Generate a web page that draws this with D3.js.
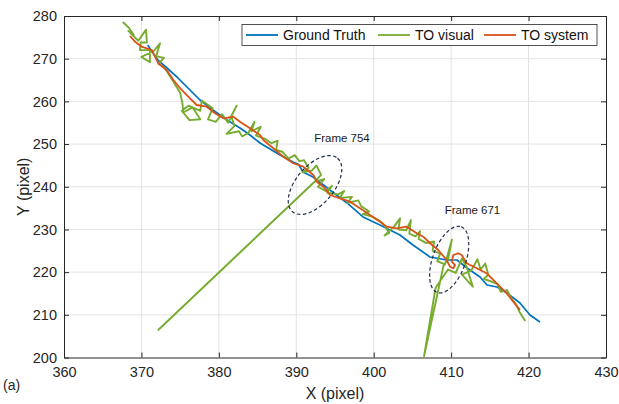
<!DOCTYPE html>
<html><head><meta charset="utf-8">
<script src="https://cdn.jsdelivr.net/npm/d3@7"></script>
<style>
body{margin:0;background:#fff;}
svg{display:block;font-family:"Liberation Sans",Arial,Helvetica,sans-serif;}
</style></head><body>
<svg id="chart" width="619" height="404"></svg>
<script>
// ---- data ----
const xTicks = [360,370,380,390,400,410,420,430];
const yTicks = [200,210,220,230,240,250,260,270,280];
const seriesNames = ["Ground Truth","TO visual","TO system"];
const seriesColors = ["#0072BD","#77AC30","#D95319"];

const groundTruth = [
[370.81,273.21],[371.49,271.33],[372.14,269.69],[373.30,267.82],[374.72,265.48],[376.27,262.67],
[377.56,260.32],[379.24,257.98],[381.05,255.64],[382.73,253.76],[384.02,252.12],[385.31,250.25],
[386.61,248.84],[387.90,247.44],[389.58,245.80],[390.30,245.2],[390.87,243.46],[392.16,242.29],[394.35,239.24],
[396.55,236.20],[398.62,232.92],[400.81,231.04],[403.39,228.70],[405.07,226.36],[407.27,223.55],
[409.46,222.84],[410.76,222.84],[412.05,220.97],[413.73,218.86],[414.63,216.99],[415.92,216.52],
[417.21,215.11],[418.89,212.77],[420.18,209.96],[421.47,208.32]
];

const toSystem = [
[368.52,275.32],[369.17,273.98],[370.03,272.81],[370.68,272.43],[371.33,272.04],[371.75,270.47],
[372.18,268.92],[373.26,267.35],[374.12,265.01],[375.20,262.67],[376.27,260.72],[377.14,259.15],
[378.43,258.75],[379.50,257.21],[380.57,256.04],[381.87,256.41],[382.73,255.24],[384.02,253.69],
[385.31,252.12],[385.74,250.95],[387.03,249.01],[388.32,247.04],[389.61,245.50],[390.91,244.70],
[392.20,242.75],[392.64,241.19],[393.49,240.01],[394.35,238.07],[395.65,237.30],[396.94,236.50],
[398.23,234.95],[399.52,233.38],[400.81,231.82],[401.68,230.64],[402.97,230.27],[404.26,230.64],
[405.55,229.10],[406.40,228.30],[407.27,226.76],[408.34,225.19],[409.42,222.84],[409.85,221.27],
[410.28,220.90],[410.50,221.67],[410.07,222.44],[410.28,224.01],[410.92,224.41],[411.36,224.01],
[412.01,222.07],[413.30,220.90],[414.59,219.73],[415.44,218.16],[416.31,216.59],[417.17,215.04],
[418.03,213.08],[418.89,211.13]
];

const toVisual = [
[367.6,278.6],[368.4,277.2],[369.0,275.6],[368.3,276.5],[369.6,274.2],
[370.6,276.8],[370.7,273.8],[369.9,273.8],[369.8,272.0],[371.1,272.0],[371.1,269.2],[370.0,270.4],
[371.6,271.8],[372.4,273.6],[371.9,270.6],[372.9,270.2],[372.2,268.8],
[373.0,267.8],[373.8,265.6],[374.6,263.2],[375.0,262.0],[375.3,259.5],[375.4,257.4],[376.6,258.6],
[377.6,255.8],[376.2,255.6],[375.2,257.8],[376.1,259.0],[377.6,257.8],[377.8,260.2],[379.2,258.4],[378.6,255.8],
[379.6,255.2],[380.4,257.0],[381.2,255.0],[382.3,259.0],[381.6,256.6],[382.0,254.2],[381.0,252.4],
[382.6,253.0],[383.0,251.8],[383.8,252.6],[384.6,255.2],[384.2,253.0],[385.4,254.0],[384.8,252.0],
[386.0,251.2],[386.8,250.2],[387.6,250.8],[387.4,248.6],[388.2,248.2],[389.0,246.6],[389.8,247.4],
[390.4,246.0],[391.0,246.2],[391.6,244.4],[390.8,243.4],[392.0,243.8],[392.6,245.0],[393.2,242.8],
[392.6,241.6],[372.2,206.5],[392.4,241.2],[393.6,241.8],[392.8,240.0],[393.8,239.0],[394.6,240.2],
[394.0,238.6],[395.4,238.2],[396.2,239.0],[395.6,237.4],[397.2,237.6],[396.6,236.2],[398.0,236.8],
[398.4,235.4],[399.4,234.2],[398.6,233.6],[399.8,233.0],[400.6,232.2],[401.2,231.4],[402.0,229.2],
[401.4,228.6],[402.6,230.6],[403.4,232.6],[403.2,230.0],[404.2,229.8],[404.8,232.2],[404.6,229.0],
[405.4,228.4],[406.0,229.6],[405.8,227.8],[406.8,226.8],[407.8,227.2],[407.6,225.0],[408.6,224.4],
[408.2,222.6],[409.2,221.8],[410.1,227.6],[409.6,223.0],[409.0,221.4],[406.5,200.3],[408.0,216.4],
[409.6,220.6],[410.6,219.8],[411.4,223.2],[412.0,221.2],[412.8,216.6],[411.4,219.4],[412.6,220.4],
[413.4,223.0],[413.8,220.6],[414.4,222.0],[414.8,219.4],[414.2,218.4],[415.2,217.8],[416.0,217.2],
[416.4,215.4],[417.2,215.8],[417.8,213.8],[418.4,212.4],[418.8,210.8],[419.4,209.0],[419.6,208.6]
];

const annotations = [
  {label:"Frame 754", cx:392.42, cy:240.41, tx:395.9, ty:250.4, angle:-50, rx:35, ry:19},
  {label:"Frame 671", cx:409.75, cy:222.93, tx:412.75, ty:233.6, angle:-70, rx:35, ry:16.5}
];

// ---- layout ----
const W=619,H=404;
const m={left:64,right:13,top:16,bottom:46.5};
const svg=d3.select("#chart");
const x=d3.scaleLinear().domain([360,430]).range([m.left,W-m.right]);
const y=d3.scaleLinear().domain([200,280]).range([H-m.bottom,m.top]);
const axisColor="#262626";

// grid
const g=svg.append("g");
g.selectAll(".gx").data(xTicks.slice(1,-1)).enter().append("line")
 .attr("x1",d=>x(d)).attr("x2",d=>x(d)).attr("y1",y(200)).attr("y2",y(280))
 .attr("stroke","#e3e3e3").attr("stroke-width",1);
g.selectAll(".gy").data(yTicks.slice(1,-1)).enter().append("line")
 .attr("y1",d=>y(d)).attr("y2",d=>y(d)).attr("x1",x(360)).attr("x2",x(430))
 .attr("stroke","#e3e3e3").attr("stroke-width",1);

// series lines
const line=d3.line().x(d=>x(d[0])).y(d=>y(d[1]));
const plot=svg.append("g");
[[groundTruth,0,1.7],[toVisual,1,1.9],[toSystem,2,1.8]].forEach(([data,i,w])=>{
  plot.append("path").datum(data).attr("d",line).attr("fill","none")
   .attr("stroke",seriesColors[i]).attr("stroke-width",w).attr("stroke-linejoin","round");
});

// annotations
annotations.forEach(a=>{
  svg.append("ellipse").attr("cx",0).attr("cy",0).attr("rx",a.rx).attr("ry",a.ry)
   .attr("transform",`translate(${x(a.cx)},${y(a.cy)}) rotate(${a.angle})`)
   .attr("fill","none").attr("stroke","#1f2d4f").attr("stroke-width",1.2)
   .attr("stroke-dasharray","3.5,2.5");
  svg.append("text").attr("x",x(a.tx)).attr("y",y(a.ty))
   .attr("text-anchor","middle").attr("font-size",11.5).attr("fill","#1a1a1a").text(a.label);
});

// axes (MATLAB style box with inward ticks)
const tl=5;
const axB=svg.append("g").attr("transform",`translate(0,${y(200)})`)
  .call(d3.axisBottom(x).tickValues(xTicks).tickSizeInner(-tl).tickSizeOuter(0).tickPadding(9));
const axT=svg.append("g").attr("transform",`translate(0,${y(280)})`)
  .call(d3.axisTop(x).tickValues(xTicks).tickSizeInner(-tl).tickSizeOuter(0).tickFormat(""));
const axL=svg.append("g").attr("transform",`translate(${x(360)},0)`)
  .call(d3.axisLeft(y).tickValues(yTicks).tickSizeInner(-tl).tickSizeOuter(0).tickPadding(7));
const axR=svg.append("g").attr("transform",`translate(${x(430)},0)`)
  .call(d3.axisRight(y).tickValues(yTicks).tickSizeInner(-tl).tickSizeOuter(0).tickFormat(""));
[axB,axT,axL,axR].forEach(a=>{
  a.selectAll("path").attr("stroke",axisColor).attr("stroke-width",1);
  a.selectAll("line").attr("stroke",axisColor).attr("stroke-width",1);
  a.selectAll("text").attr("fill","#262626").attr("font-size",14.5)
   .attr("font-family","'Liberation Sans',Arial,Helvetica,sans-serif");
});

// axis labels
svg.append("text").attr("x",(x(360)+x(430))/2).attr("y",399).attr("text-anchor","middle")
  .attr("font-size",16).attr("fill","#262626").text("X (pixel)");
svg.append("text").attr("transform",`translate(29,${(y(200)+y(280))/2}) rotate(-90)`)
  .attr("text-anchor","middle").attr("font-size",16).attr("fill","#262626").text("Y (pixel)");
svg.append("text").attr("x",3).attr("y",390).attr("font-size",14).attr("fill","#262626").text("(a)");

// legend
const lg=svg.append("g").attr("transform","translate(242,24.5)");
lg.append("rect").attr("width",355).attr("height",21).attr("fill","#fff")
  .attr("stroke","#262626").attr("stroke-width",0.8);
const itemX=[4,136,242];
seriesNames.forEach((n,i)=>{
  const it=lg.append("g").attr("transform",`translate(${itemX[i]},10.5)`);
  it.append("line").attr("x1",0).attr("x2",32).attr("stroke",seriesColors[i]).attr("stroke-width",1.8);
  it.append("text").attr("x",37).attr("y",5).attr("font-size",14).attr("fill","#111").text(n);
});
</script>
</body></html>
